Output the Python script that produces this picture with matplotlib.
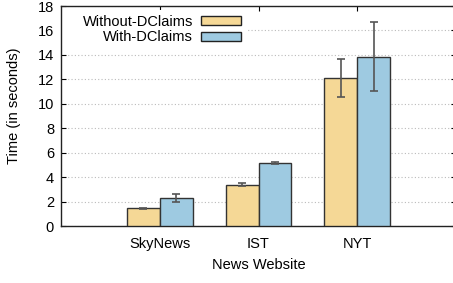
import matplotlib
matplotlib.use("Agg")
import numpy as np
import matplotlib.pyplot as plt
from matplotlib.patches import Patch, Rectangle

plt.rcParams['font.family'] = ['Liberation Sans', 'DejaVu Sans']

# data
sites = ['SkyNews', 'IST', 'NYT']
without_mean = [1.45, 3.38, 12.1]
without_err = [0.06, 0.12, 1.57]
with_mean = [2.27, 5.18, 13.86]
with_err = [0.32, 0.09, 2.8]
yticks = [0, 2, 4, 6, 8, 10, 12, 14, 16, 18]

c_without = '#F5D896'
c_with = '#9ECAE1'
fs = 10.5

fig = plt.figure(figsize=(4.53, 2.83), dpi=100)
ax = fig.add_axes([61/453, 57/283, 395/453, 220/283])

x = np.arange(len(sites))
w = 0.334
ekw = dict(ecolor='#555555', elinewidth=1.2, capthick=1.2)
ax.bar(x - w/2, without_mean, w, yerr=without_err, color=c_without,
       edgecolor='#333333', linewidth=1.0, capsize=2.6, error_kw=ekw, zorder=3)
ax.bar(x + w/2, with_mean, w, yerr=with_err, color=c_with,
       edgecolor='#333333', linewidth=1.0, capsize=2.6, error_kw=ekw, zorder=3)

ax.set_xlim(-1, 3)
ax.set_ylim(0, 18)
ax.set_xticks(x)
ax.set_xticklabels(sites, fontsize=fs)
ax.set_yticks(yticks)
ax.tick_params(axis='y', labelsize=fs, direction='in', left=True, right=True,
               length=3.5, width=0.8, pad=5)
ax.tick_params(axis='x', direction='in', top=True, bottom=True, length=3.5,
               width=0.8, pad=8)
ax.yaxis.grid(True, linestyle=(0, (1, 2)), color='#bbbbbb', linewidth=0.8, zorder=0)
ax.set_axisbelow(True)
for s in ax.spines.values():
    s.set_linewidth(1.0)
    s.set_color('#222222')

ax.set_xlabel('News Website', fontsize=fs, labelpad=5)
ax.set_ylabel('Time (in seconds)', fontsize=fs)
ax.yaxis.set_label_coords(-0.10, 0.545)

# opaque key area like gnuplot
ax.add_patch(Rectangle((0, 0.81), (248 - 61) / 395, 0.17, transform=ax.transAxes,
                       facecolor='white', edgecolor='none', zorder=1))

handles = [Patch(facecolor=c_without, edgecolor='#222222', linewidth=1.0),
           Patch(facecolor=c_with, edgecolor='#222222', linewidth=1.0)]
leg = ax.legend(handles, ['Without-DClaims', 'With-DClaims'], loc='upper right',
                bbox_to_anchor=((241 - 61) / 395, (226 - 15) / 220), markerfirst=False,
                frameon=False, fontsize=fs, handlelength=2.74, handleheight=0.55,
                handletextpad=0.55, labelspacing=0.1, borderpad=0, borderaxespad=0)

fig.savefig('out.png', dpi=100)
